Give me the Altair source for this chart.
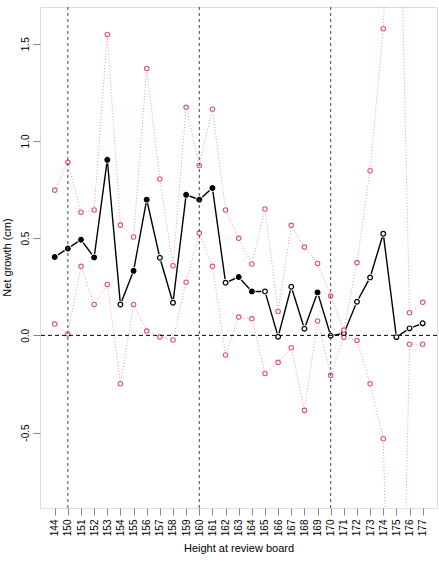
import altair as alt
import pandas as pd

heights = [144, 150, 151, 152, 153, 154, 155, 156, 157, 158,
           159, 160, 161, 162, 163, 164, 165, 166, 167, 168,
           169, 170, 171, 172, 173, 174, 175, 176, 177]
growth = [0.403, 0.447, 0.492, 0.401, 0.903, 0.159, 0.332, 0.698, 0.399, 0.168,
          0.723, 0.698, 0.758, 0.271, 0.300, 0.226, 0.226, -0.007, 0.250, 0.034,
          0.221, -0.002, 0.010, 0.173, 0.298, 0.523, -0.009, 0.036, 0.062]
filled = [1, 1, 1, 1, 1, 0, 1, 1, 0, 0,
          1, 1, 1, 0, 1, 1, 0, 0, 0, 0,
          1, 0, 0, 0, 0, 0, 0, 0, 0]
upper = [0.747, 0.890, 0.633, 0.645, 1.548, 0.567, 0.506, 1.373, 0.804, 0.358,
         1.173, 0.874, 1.163, 0.645, 0.499, 0.367, 0.650, 0.123, 0.566, 0.454,
         0.370, 0.202, 0.027, 0.374, 0.847, 1.577, 3.15, 0.116, 0.170]
lower = [0.058, 0.007, 0.355, 0.159, 0.262, -0.249, 0.159, 0.022, -0.009, -0.024,
         0.273, 0.526, 0.355, -0.101, 0.094, 0.085, -0.196, -0.139, -0.064, -0.386,
         0.074, -0.206, -0.010, -0.026, -0.249, -0.532, -3.2, -0.046, -0.046]
ref_heights = [150, 160, 170]
y_ticks = [-0.5, 0.0, 0.5, 1.0, 1.5]

RED = "#DF536B"
FONT = "Liberation Sans"

df = pd.DataFrame({
    "idx": list(range(1, len(heights) + 1)),
    "label": [str(h) for h in heights],
    "growth": growth,
    "filled": filled,
    "upper": upper,
    "lower": lower,
})
ref_df = pd.DataFrame({"idx": [heights.index(h) + 1 for h in ref_heights]})
zero_df = pd.DataFrame({"y": [0.0]})

label_js = "[" + ",".join("'%d'" % h for h in heights) + "]"

x_scale = alt.Scale(domain=[-0.12, 30.09], nice=False, zero=False)
y_scale = alt.Scale(domain=[-0.888, 1.689], nice=False, zero=False)

x_axis = alt.Axis(
    values=list(range(1, len(heights) + 1)),
    labelExpr=label_js + "[datum.value - 1]",
    labelAngle=270, labelAlign="right", labelBaseline="middle",
    labelPadding=4, tickSize=7, domain=False, grid=False,
    labelOverlap=False, labelFlush=False,
    title="Height at review board", titleY=40, titleBaseline="middle",
    titleFontWeight="normal",
)
y_axis = alt.Axis(
    values=y_ticks,
    labelExpr="replace(format(datum.value, '.1f'), '\u2212', '-')",
    labelAngle=270, labelAlign="center", labelBaseline="bottom",
    labelPadding=3, tickSize=7, domain=False, grid=False,
    title="Net growth (cm)", titleAngle=270, titleX=-33, titleY=250,
    titleAlign="center", titleBaseline="middle", titleFontWeight="normal",
)

def X():
    return alt.X("idx:Q", scale=x_scale, axis=x_axis)

def Y(field):
    return alt.Y(field, type="quantitative", scale=y_scale, axis=y_axis)

base = alt.Chart(df)

layers = []
for f in ["upper", "lower"]:
    layers.append(base.mark_line(color=RED, strokeDash=[1, 2], strokeWidth=1,
                                 opacity=0.6, clip=True)
                  .encode(x=X(), y=Y(f)))
for f in ["upper", "lower"]:
    layers.append(base.mark_circle(color="white", size=40, opacity=1, clip=True)
                  .encode(x=X(), y=Y(f)))

layers.append(base.mark_line(color="black", strokeWidth=1.4, clip=True)
              .encode(x=X(), y=Y("growth")))
layers.append(base.mark_circle(color="white", size=55, opacity=1, clip=True)
              .encode(x=X(), y=Y("growth")))
layers.append(base.mark_circle(size=22, stroke="black", strokeWidth=1.2, opacity=1, clip=True)
              .encode(x=X(), y=Y("growth"),
                      fill=alt.condition("datum.filled == 1", alt.value("black"), alt.value("white"))))
for f in ["upper", "lower"]:
    layers.append(base.mark_circle(fill="white", stroke=RED, strokeWidth=1.1, size=20, opacity=1, clip=True)
                  .encode(x=X(), y=Y(f)))

layers.append(alt.Chart(ref_df).mark_rule(color="#444444", strokeDash=[3, 3], strokeWidth=1)
              .encode(x=X()))
layers.append(alt.Chart(zero_df).mark_rule(color="black", strokeDash=[4, 3], strokeWidth=1)
              .encode(y=Y("y")))

chart = alt.layer(*layers).properties(
    width=397, height=501,
    autosize=alt.AutoSizeParams(type="none"),
    padding={"left": 40, "top": 7, "right": 2, "bottom": 54},
).configure_view(stroke="#555555", strokeWidth=1).configure_axis(
    labelFont=FONT, titleFont=FONT, labelFontSize=9, titleFontSize=9.5,
    labelColor="#333333", titleColor="#333333", tickColor="#444444",
).configure(background="white")

chart.save("out.html", embed_options={"renderer": "svg", "actions": False})
